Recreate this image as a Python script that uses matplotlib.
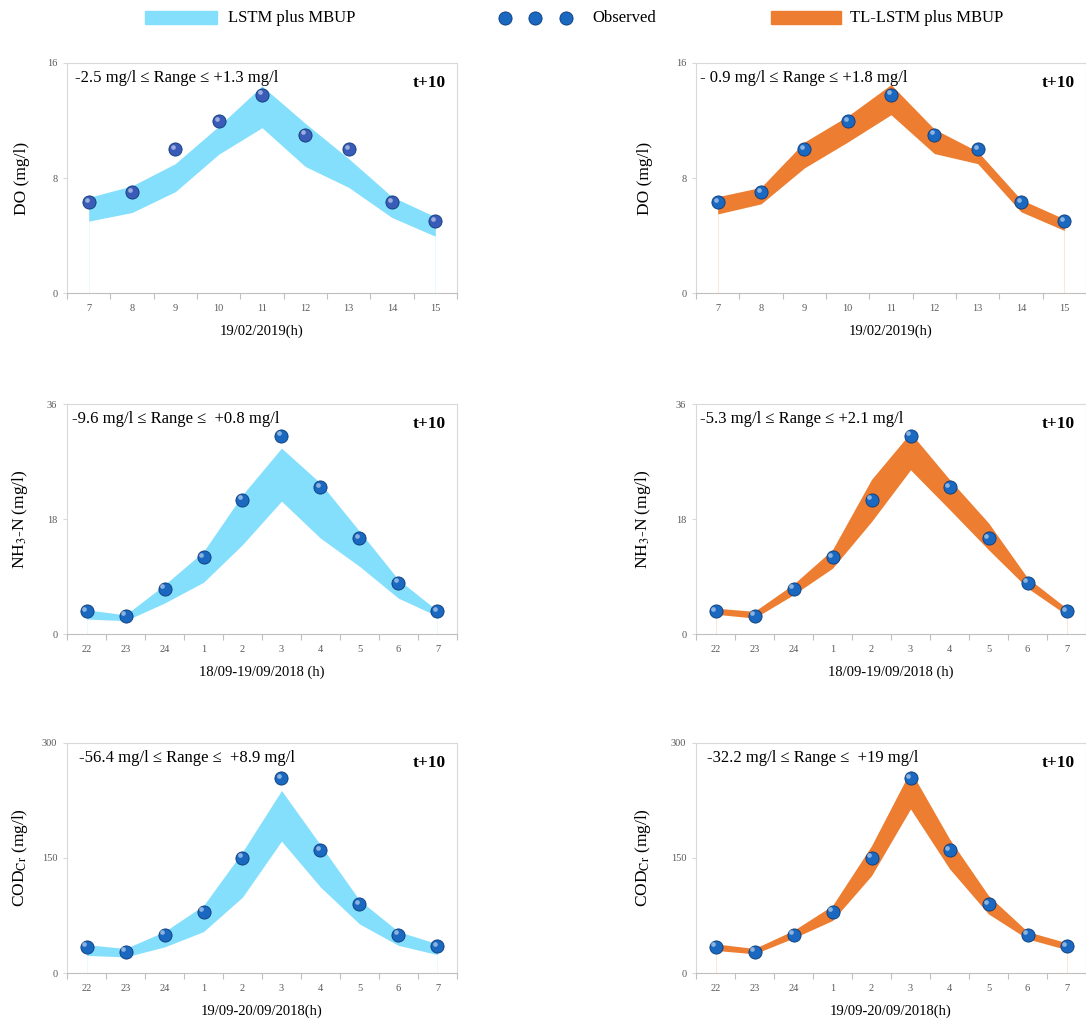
import numpy as np
import matplotlib
matplotlib.use('Agg')
import matplotlib.pyplot as plt
from matplotlib.patches import Rectangle
from matplotlib.transforms import offset_copy

plt.rcParams['font.family'] = ['Liberation Serif', 'DejaVu Serif']
plt.rcParams['mathtext.fontset'] = 'stix'

# ---- data ----
hours_do = ['7', '8', '9', '10', '11', '12', '13', '14', '15']
hours_nh = ['22', '23', '24', '1', '2', '3', '4', '5', '6', '7']

do_obs = [6.3, 7.0, 10.0, 11.95, 13.8, 11.0, 10.0, 6.3, 5.0]
do_lstm_lo = [5.0, 5.6, 7.05, 9.65, 11.5, 8.8, 7.35, 5.25, 3.95]
do_lstm_hi = [6.65, 7.45, 9.0, 11.6, 14.4, 11.8, 9.35, 6.7, 5.3]
do_tl_lo = [5.5, 6.2, 8.7, 10.5, 12.4, 9.7, 9.0, 5.65, 4.35]
do_tl_hi = [6.7, 7.35, 10.5, 12.3, 14.5, 11.4, 9.85, 6.5, 5.15]

nh_obs = [3.55, 2.9, 7.05, 12.0, 21.0, 31.0, 23.0, 15.0, 8.0, 3.55]
nh_lstm_lo = [2.35, 2.1, 4.85, 8.1, 14.0, 20.8, 15.0, 10.6, 5.6, 2.8]
nh_lstm_hi = [3.8, 3.0, 7.7, 12.9, 21.8, 29.1, 23.6, 16.1, 8.5, 3.65]
nh_tl_lo = [3.1, 2.5, 6.15, 10.3, 17.6, 25.7, 19.5, 13.2, 7.2, 3.0]
nh_tl_hi = [4.05, 3.55, 7.8, 13.2, 24.2, 31.5, 24.2, 17.4, 8.8, 4.05]

cod_obs = [34, 28, 50, 80, 150, 254, 160, 90, 50, 35]
cod_lstm_lo = [23, 21, 34, 54, 99, 172, 112, 64, 36, 24]
cod_lstm_hi = [37, 32, 54, 88, 158, 238, 167, 95, 54, 38]
cod_tl_lo = [29.5, 25, 45.5, 68.5, 127, 214, 136, 77, 44.5, 30.5]
cod_tl_hi = [38, 32, 55.5, 88, 166, 264, 175, 101, 54, 39.5]

ranges_lstm = ['-2.5 mg/l \u2264 Range \u2264 +1.3 mg/l',
               '-9.6 mg/l \u2264 Range \u2264  +0.8 mg/l',
               '-56.4 mg/l \u2264 Range \u2264  +8.9 mg/l']
ranges_tl = ['- 0.9 mg/l \u2264 Range \u2264 +1.8 mg/l',
             '-5.3 mg/l \u2264 Range \u2264 +2.1 mg/l',
             '-32.2 mg/l \u2264 Range \u2264  +19 mg/l']

ylabels = ['DO (mg/l)', 'NH$_3$-N (mg/l)', 'COD$_{\\mathrm{Cr}}$ (mg/l)']
xlabels = ['19/02/2019(h)', '18/09-19/09/2018 (h)', '19/09-20/09/2018(h)']
ymax = [16, 36, 300]

BLUE = '#84dffc'
ORANGE = '#ed7d31'
MARK = '#1a68c0'
MARK_DO_L = '#3a5cb8'

fig = plt.figure(figsize=(10.86, 10.21), dpi=100)

bottoms = [0.713, 0.379, 0.047]
lefts = [0.0617, 0.6409]
W, H = 0.3591, 0.2253

rows = [
    (hours_do, do_obs, (do_lstm_lo, do_lstm_hi), (do_tl_lo, do_tl_hi)),
    (hours_nh, nh_obs, (nh_lstm_lo, nh_lstm_hi), (nh_tl_lo, nh_tl_hi)),
    (hours_nh, cod_obs, (cod_lstm_lo, cod_lstm_hi), (cod_tl_lo, cod_tl_hi)),
]
txt_x = [[0.02, 0.01], [0.013, 0.01], [0.03, 0.028]]


def draw_balls(ax, x, y, col, s=90):
    ax.scatter(x, y, s=s, color=col, edgecolor='#0b3a78', linewidth=0.6, zorder=4)
    tr = offset_copy(ax.transData, fig=fig, x=-1.5, y=1.8, units='points')
    ax.scatter(x, y, s=s / 8, color='white', alpha=0.5, linewidth=0, zorder=5,
               transform=tr)


for r, (cats, obs, band_a, band_b) in enumerate(rows):
    for c, (band, col) in enumerate([(band_a, BLUE), (band_b, ORANGE)]):
        ax = fig.add_axes([lefts[c], bottoms[r], W, H])
        x = np.arange(len(cats))
        lo, hi = band
        ax.fill_between(x, lo, hi, color=col, linewidth=0, zorder=2)
        ax.vlines([x[0], x[-1]], 0, [lo[0], lo[-1]], color=col, lw=0.5, alpha=0.25, zorder=1)
        mcol = MARK_DO_L if (r == 0 and c == 0) else MARK
        draw_balls(ax, x, obs, mcol)

        ax.set_xlim(-0.5, len(cats) - 0.5)
        ax.set_ylim(0, ymax[r])
        ax.set_yticks([0, ymax[r] / 2, ymax[r]])
        ax.set_yticklabels(['0', '%g' % (ymax[r] / 2), '%g' % ymax[r]])
        ax.set_xticks(x)
        ax.set_xticklabels(cats)
        ax.set_xticks(np.arange(len(cats) + 1) - 0.5, minor=True)
        ax.tick_params(axis='x', which='major', length=0, pad=8,
                       labelsize=7.5, labelcolor='#595959')
        ax.tick_params(axis='x', which='minor', length=4, color='#bfbfbf', width=0.8)
        ax.tick_params(axis='y', length=3, color='#d9d9d9', width=0.8, pad=4,
                       labelsize=7.5, labelcolor='#595959')
        for s in ['left', 'top', 'right']:
            ax.spines[s].set_color('#d9d9d9')
            ax.spines[s].set_linewidth(0.8)
        ax.spines['bottom'].set_color('#bfbfbf')
        ax.spines['bottom'].set_linewidth(0.8)

        ax.set_ylabel(ylabels[r], fontsize=12.5)
        ax.yaxis.set_label_coords(-0.095 if c == 0 else -0.11, 0.5)
        ax.set_xlabel(xlabels[r], fontsize=10.5)
        ax.xaxis.set_label_coords(0.5, -0.135)

        rng = ranges_lstm[r] if c == 0 else ranges_tl[r]
        ax.text(txt_x[r][c], 0.935, rng, transform=ax.transAxes, fontsize=12,
                ha='left', va='center')
        ax.text(0.972, 0.915, 't+10', transform=ax.transAxes, fontsize=12.5,
                fontweight='bold', ha='right', va='center')

# ---- top legend (pixel coords of the top strip) ----
lax = fig.add_axes([0, 1 - 41 / 1021, 1, 41 / 1021])
lax.set_axis_off()
lax.set_xlim(0, 1086)
lax.set_ylim(0, 41)
lax.add_patch(Rectangle((145, 17), 72, 13, color=BLUE))
lax.text(228, 23, 'LSTM plus MBUP', fontsize=12, va='center', ha='left')
lax.scatter([505, 535, 566], [23, 23, 23], s=90, color=MARK, edgecolor='#0b3a78', lw=0.6)
lax.text(592, 23, 'Observed', fontsize=12, va='center', ha='left')
lax.add_patch(Rectangle((771, 17), 70, 13, color=ORANGE))
lax.text(850, 23, 'TL-LSTM plus MBUP', fontsize=12, va='center', ha='left')

fig.savefig('out.png', dpi=100)
